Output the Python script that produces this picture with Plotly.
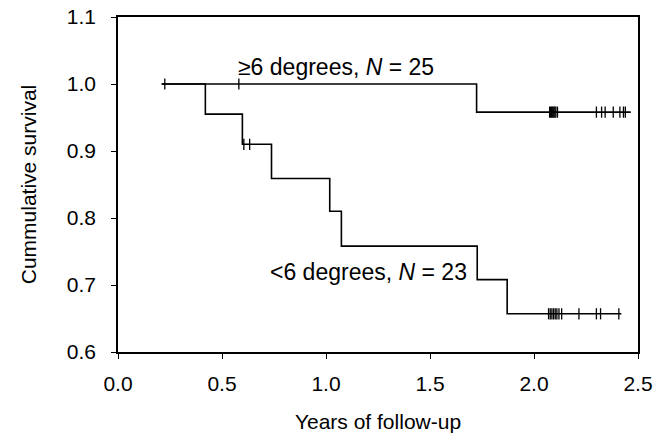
import plotly.graph_objects as go
import bisect

# ---- data ----
# step functions: time of each step start and survival level from there on
upper_x = [0.21, 1.724, 2.465]
upper_y = [1.0, 0.958, 0.958]
upper_censor = [0.225, 0.581, 2.075, 2.08, 2.085, 2.09, 2.095, 2.10, 2.105, 2.113,
                2.30, 2.325, 2.342, 2.381, 2.413, 2.43, 2.439]

lower_x = [0.21, 0.420, 0.598, 0.738, 1.018, 1.074, 1.727, 1.871, 2.42]
lower_y = [1.0, 0.955, 0.91, 0.859, 0.81, 0.758, 0.708, 0.657, 0.657]
lower_censor = [0.605, 0.633, 2.07, 2.078, 2.086, 2.094, 2.102, 2.11, 2.12,
                2.133, 2.216, 2.30, 2.32, 2.408]

upper_label = "\u22656 degrees, <i>N</i> = 25"
lower_label = "<6 degrees, <i>N</i> = 23"

x_ticks = [0.0, 0.5, 1.0, 1.5, 2.0, 2.5]
y_ticks = [0.6, 0.7, 0.8, 0.9, 1.0, 1.1]


def step_value(xs, ys, t):
    i = bisect.bisect_right(xs, t) - 1
    return ys[max(i, 0)]


FONT = "Liberation Sans, Arial, Helvetica, sans-serif"
fig = go.Figure()

for xs, ys, cens in [(upper_x, upper_y, upper_censor), (lower_x, lower_y, lower_censor)]:
    fig.add_trace(go.Scatter(x=xs, y=ys, mode="lines", line_shape="hv",
                             line=dict(color="black", width=1.6), showlegend=False,
                             hoverinfo="skip"))
    fig.add_trace(go.Scatter(x=cens, y=[step_value(xs, ys, t) for t in cens],
                             mode="markers", showlegend=False,
                             marker=dict(symbol="line-ns-open", size=8, color="black",
                                         line=dict(color="black", width=1.3))))

fig.add_annotation(x=0.569, y=1.025, text=upper_label, showarrow=False,
                   xanchor="left", yanchor="middle",
                   font=dict(family=FONT, size=23, color="black"))
fig.add_annotation(x=0.72, y=0.72, text=lower_label, showarrow=False,
                   xanchor="left", yanchor="middle",
                   font=dict(family=FONT, size=23, color="black"))

axis_common = dict(showgrid=False, zeroline=False, showline=True, linecolor="black",
                   linewidth=1.5, mirror=True, ticks="outside", ticklen=5,
                   tickwidth=1.2, tickcolor="black",
                   tickfont=dict(family=FONT, size=21, color="black"))

fig.update_xaxes(range=[0, 2.5], tickvals=x_ticks,
                 ticktext=[f"{v:.1f}" for v in x_ticks],
                 ticklabelstandoff=7,
                 title=dict(text="Years of follow-up", standoff=20,
                            font=dict(family=FONT, size=21, color="black")),
                 **axis_common)
fig.update_yaxes(range=[0.6, 1.1], tickvals=y_ticks,
                 ticktext=[f"{v:.1f}" for v in y_ticks],
                 ticklabelstandoff=11,
                 title=dict(text="Cummulative survival", standoff=24,
                            font=dict(family=FONT, size=21, color="black")),
                 **axis_common)

fig.update_layout(width=671, height=441, plot_bgcolor="white", paper_bgcolor="white",
                  margin=dict(l=118, r=33, t=17, b=89, autoexpand=False))

fig.write_html("out.html")
